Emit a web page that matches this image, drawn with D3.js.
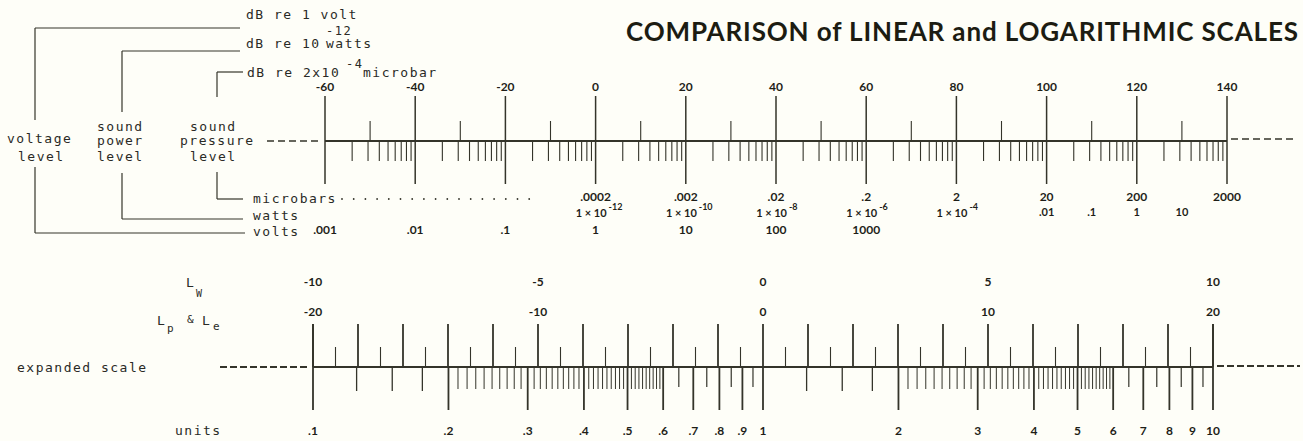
<!DOCTYPE html>
<html>
<head>
<meta charset="utf-8">
<script src="https://cdn.jsdelivr.net/npm/d3@7"></script>
<style>
  body { margin: 0; background: #fefef8; }
  .type { font-family: "DejaVu Sans Mono", monospace; font-size: 13px; letter-spacing: 1.5px; fill: #2a2a26; }
  .num { font-family: Lato, "DejaVu Sans", sans-serif; font-weight: 700; font-size: 12px; fill: #1e1e18; }
  .small { font-family: Lato, "DejaVu Sans", sans-serif; font-weight: 700; font-size: 11px; fill: #1e1e18; }
</style>
</head>
<body>
<div id="chart"></div>
<script>
var width = 1303;
var height = 441;

// top scale: dB values and the readings under them
var dbTicks = [-60, -40, -20, 0, 20, 40, 60, 80, 100, 120, 140];
var dbHalf = [-50, -30, -10, 10, 30, 50, 70, 90, 110, 130];
var logSteps = [2, 3, 4, 5, 6, 7, 8, 9];
var microbarDb = [0, 20, 40, 60, 80, 100, 120, 140];
var microbarLabels = [".0002", ".002", ".02", ".2", "2", "20", "200", "2000"];
var wattExpDb = [0, 20, 40, 60, 80];
var wattExps = ["-12", "-10", "-8", "-6", "-4"];
var wattPlainDb = [100, 110, 120, 130];
var wattPlain = [".01", ".1", "1", "10"];
var voltDb = [-60, -40, -20, 0, 20, 40, 60];
var voltLabels = [".001", ".01", ".1", "1", "10", "100", "1000"];

// bottom (expanded) scale
var lwLabels = [-10, -5, 0, 5, 10];
var lpLabels = [-20, -10, 0, 10, 20];
var unitValues = [0.1, 0.2, 0.3, 0.4, 0.5, 0.6, 0.7, 0.8, 0.9, 1, 2, 3, 4, 5, 6, 7, 8, 9, 10];
var unitLabels = [".1", ".2", ".3", ".4", ".5", ".6", ".7", ".8", ".9", "1", "2", "3", "4", "5", "6", "7", "8", "9", "10"];
var unitQuarter = [0.125, 0.15, 0.175, 1.25, 1.5, 1.75];
var unitHalf = [0.65, 0.75, 0.85, 0.95, 6.5, 7.5, 8.5, 9.5];

var ink = "#34342a";

var svg = d3.select("#chart").append("svg")
  .attr("width", width)
  .attr("height", height);
svg.append("rect").attr("width", width).attr("height", height).attr("fill", "#fefef8");

// title
svg.append("text")
  .attr("x", 626).attr("y", 41)
  .attr("textLength", 672).attr("lengthAdjust", "spacing")
  .style("font-family", "Lato, 'Open Sans', sans-serif")
  .style("font-weight", 700)
  .style("font-size", "26px")
  .style("fill", "#1c1c12")
  .text("COMPARISON of LINEAR and LOGARITHMIC SCALES");

// ---------- top scale ----------
var x = d3.scaleLinear().domain([-60, 140]).range([325, 1227]);
var yTop = 141;

function line(x1, y1, x2, y2, w) {
  return svg.append("line")
    .attr("x1", x1).attr("y1", y1).attr("x2", x2).attr("y2", y2)
    .attr("stroke", ink).attr("stroke-width", w || 1.2);
}

line(x(-60), yTop, x(140), yTop, 2);
line(267, yTop, 321, yTop, 1.6).attr("stroke-dasharray", "7,4");
line(x(140) + 4, yTop - 2, 1296, yTop - 2, 1.6).attr("stroke-dasharray", "7,4");

svg.selectAll(".maj").data(dbTicks).enter().append("line")
  .attr("x1", d => x(d)).attr("x2", d => x(d))
  .attr("y1", 96).attr("y2", 184)
  .attr("stroke", ink).attr("stroke-width", 1.5);

svg.selectAll(".half").data(dbHalf).enter().append("line")
  .attr("x1", d => x(d)).attr("x2", d => x(d))
  .attr("y1", 121).attr("y2", yTop)
  .attr("stroke", ink).attr("stroke-width", 1.1);

var decades = dbTicks.slice(0, -1);
var logTicks = [];
decades.forEach(function(d) {
  logSteps.forEach(function(k) { logTicks.push(d + 20 * Math.log10(k)); });
});
svg.selectAll(".logt").data(logTicks).enter().append("line")
  .attr("x1", d => x(d)).attr("x2", d => x(d))
  .attr("y1", yTop).attr("y2", 161)
  .attr("stroke", ink).attr("stroke-width", 1.1);

svg.selectAll(".dbl").data(dbTicks).enter().append("text")
  .attr("class", "num")
  .attr("x", d => x(d)).attr("y", 91)
  .attr("text-anchor", "middle")
  .text(d => d);

svg.selectAll(".mbl").data(microbarLabels).enter().append("text")
  .attr("class", "num")
  .attr("x", (d, i) => x(microbarDb[i])).attr("y", 201)
  .attr("text-anchor", "middle")
  .text(d => d);

wattExps.forEach(function(e, i) {
  var cx = x(wattExpDb[i]) + 5;
  svg.append("text").attr("class", "small")
    .attr("x", cx + 6).attr("y", 217).attr("text-anchor", "end")
    .text("1 \u00d7 10");
  svg.append("text").attr("class", "small")
    .style("font-size", "9px")
    .attr("x", cx + 8).attr("y", 210)
    .text(e);
});

svg.selectAll(".wpl").data(wattPlain).enter().append("text")
  .attr("class", "small")
  .attr("x", (d, i) => x(wattPlainDb[i])).attr("y", 216)
  .attr("text-anchor", "middle")
  .text(d => d);

svg.selectAll(".vl").data(voltLabels).enter().append("text")
  .attr("class", "num")
  .attr("x", (d, i) => x(voltDb[i])).attr("y", 234)
  .attr("text-anchor", "middle")
  .text(d => d);

// left brackets and typed labels
function typed(tx, ty, s, size) {
  var t = svg.append("text").attr("class", "type").attr("x", tx).attr("y", ty).text(s);
  if (size) t.style("font-size", size);
  return t;
}

typed(246, 19, "dB re 1 volt");
typed(246, 48, "dB re 10");
typed(326, 35, "-12", "12px");
typed(326, 48, "watts");
typed(247, 77, "dB re 2x10");
typed(346, 68, "-4", "12px");
typed(363, 77, "microbar");

line(35, 28, 240, 28);
line(35, 28, 35, 120);
line(122, 51, 240, 51);
line(122, 51, 122, 112);
line(217, 72, 243, 72);
line(217, 72, 217, 97);

typed(7, 143, "voltage");
typed(18, 161, " level");
typed(97, 131, "sound");
typed(97, 145, "power");
typed(97, 161, "level");
typed(190, 131, "sound");
typed(180, 145, "pressure");
typed(190, 161, " level");

line(35, 167, 35, 233);
line(35, 233, 245, 233);
line(122, 173, 122, 219);
line(122, 219, 243, 219);
line(217, 172, 217, 199);
line(217, 199, 243, 199);

typed(253, 203, "microbars");
typed(253, 220, "watts");
typed(253, 236, "volts");

var dots = d3.range(17);
svg.selectAll(".dot").data(dots).enter().append("circle")
  .attr("cx", d => 342 + d * 11.7).attr("cy", 199)
  .attr("r", 0.9).attr("fill", ink);

// ---------- bottom scale ----------
var u = d3.scaleLog().domain([0.1, 10]).range([313, 1213]);
var lp = d3.scaleLinear().domain([-20, 20]).range([313, 1213]);
var lw = d3.scaleLinear().domain([-10, 10]).range([313, 1213]);
var yBot = 367;

line(u(0.1), yBot, u(10), yBot, 2.2);
line(220, yBot, 310, yBot, 2).attr("stroke-dasharray", "7,3");
line(u(10) + 4, yBot - 1, 1300, yBot - 1, 2).attr("stroke-dasharray", "7,3");

var lpSteps = d3.range(-20, 21);
svg.selectAll(".lpt").data(lpSteps).enter().append("line")
  .attr("x1", d => lp(d)).attr("x2", d => lp(d))
  .attr("y1", d => d % 2 === 0 ? 324 : 347).attr("y2", yBot)
  .attr("stroke", ink).attr("stroke-width", d => d % 2 === 0 ? 1.8 : 1.1);

// dense ticks between .2-.6 and 2-6
var dense = [];
d3.range(21, 60).forEach(function(i) {
  if (i % 10 !== 0) { dense.push(i / 100); dense.push(i / 10); }
});
svg.selectAll(".dense").data(dense).enter().append("line")
  .attr("x1", d => u(d)).attr("x2", d => u(d))
  .attr("y1", yBot).attr("y2", 389)
  .attr("stroke", ink).attr("stroke-width", 1);

svg.selectAll(".uq").data(unitQuarter).enter().append("line")
  .attr("x1", d => u(d)).attr("x2", d => u(d))
  .attr("y1", yBot).attr("y2", 391)
  .attr("stroke", ink).attr("stroke-width", 1.3);

svg.selectAll(".uh").data(unitHalf).enter().append("line")
  .attr("x1", d => u(d)).attr("x2", d => u(d))
  .attr("y1", yBot).attr("y2", 387)
  .attr("stroke", ink).attr("stroke-width", 1.2);

svg.selectAll(".um").data(unitValues).enter().append("line")
  .attr("x1", d => u(d)).attr("x2", d => u(d))
  .attr("y1", d => (d === 0.1 || d === 10) ? 324 : yBot).attr("y2", 410)
  .attr("stroke", ink).attr("stroke-width", 1.8);

svg.selectAll(".lwl").data(lwLabels).enter().append("text")
  .attr("class", "num")
  .attr("x", d => lw(d)).attr("y", 286)
  .attr("text-anchor", "middle")
  .text(d => d);

svg.selectAll(".lpl").data(lpLabels).enter().append("text")
  .attr("class", "num")
  .attr("x", d => lp(d)).attr("y", 316)
  .attr("text-anchor", "middle")
  .text(d => d);

svg.selectAll(".ul").data(unitLabels).enter().append("text")
  .attr("class", "num")
  .attr("x", (d, i) => u(unitValues[i])).attr("y", 435)
  .attr("text-anchor", "middle")
  .text(d => d);

typed(186, 287, "L");
typed(196, 297, "W", "10px");
typed(157, 325, "L");
typed(167, 332, "p", "11px");
typed(187, 323, "&", "11px");
typed(202, 325, "L");
typed(213, 330, "e", "11px");

typed(17, 372, "expanded scale");
typed(175, 435, "units");
</script>
</body>
</html>
